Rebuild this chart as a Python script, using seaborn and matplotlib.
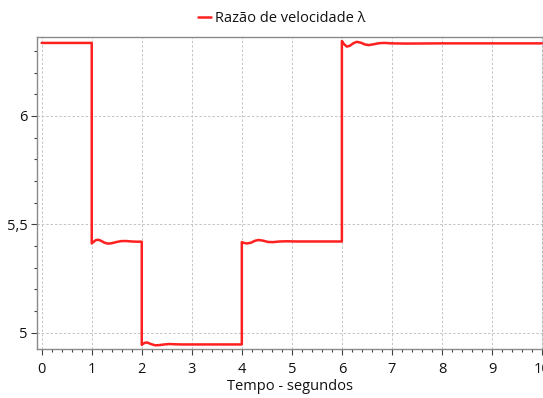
import matplotlib
matplotlib.use("Agg")
import matplotlib.pyplot as plt
import seaborn as sns
import pandas as pd
from matplotlib.ticker import MultipleLocator

# ---- data ----
tempo = [0.0, 1.0, 1.0,
         1.03, 1.08, 1.13, 1.18, 1.25, 1.32, 1.40, 1.50, 1.60, 1.70, 1.80, 1.90, 2.0, 2.0,
         2.03, 2.08, 2.12, 2.18, 2.27, 2.35, 2.45, 2.55, 2.65, 2.80, 3.0, 4.0, 4.0,
         4.05, 4.10, 4.18, 4.26, 4.33, 4.42, 4.52, 4.62, 4.75, 4.90, 5.10, 6.0, 6.0,
         6.04, 6.10, 6.16, 6.24, 6.30, 6.38, 6.46, 6.54, 6.64, 6.75, 6.85, 7.0, 7.3, 8.0, 10.0]
lam = [6.337, 6.337, 5.412,
       5.418, 5.427, 5.429, 5.425, 5.416, 5.411, 5.413, 5.419, 5.423, 5.423, 5.421, 5.420, 5.420, 4.944,
       4.950, 4.955, 4.954, 4.948, 4.942, 4.943, 4.946, 4.948, 4.947, 4.946, 4.946, 4.946, 5.418,
       5.414, 5.412, 5.415, 5.424, 5.428, 5.425, 5.419, 5.418, 5.421, 5.422, 5.421, 5.421, 6.346,
       6.332, 6.320, 6.324, 6.337, 6.342, 6.338, 6.330, 6.327, 6.331, 6.336, 6.337, 6.335, 6.334, 6.335, 6.335]
serie = "Razão de velocidade λ"
xticks = [0, 1, 2, 3, 4, 5, 6, 7, 8, 9, 10]
yticks = [5.0, 5.5, 6.0]
ytick_labels = ["5", "5,5", "6"]
xlabel = "Tempo - segundos"

df = pd.DataFrame({"t": tempo, "v": lam, "s": serie})

sns.set_theme(style="white")
plt.rcParams["font.family"] = ["Open Sans", "DejaVu Sans"]

fig = plt.figure(figsize=(5.43, 3.98), dpi=100)
ax = fig.add_axes([0.0687, 0.1231, 0.9313, 0.7832])

sns.lineplot(data=df, x="t", y="v", hue="s", palette=["#ff2020"], sort=False,
             linewidth=1.8, ax=ax, estimator=None)

ax.set_xlim(-0.088, 10.02)
ax.set_ylim(4.925, 6.363)
ax.set_xticks(xticks)
ax.set_xticklabels([str(x) for x in xticks])
ax.set_yticks(yticks)
ax.set_yticklabels(ytick_labels)
ax.xaxis.set_minor_locator(MultipleLocator(0.2))
ax.yaxis.set_minor_locator(MultipleLocator(0.1))

ax.grid(True, which="major", linestyle=(0, (2.5, 2)), color="#c4c4c4", linewidth=0.7)
ax.tick_params(axis="both", which="major", direction="out", length=4, width=0.8,
               color="#404040", labelsize=10.5, labelcolor="#111111", pad=3,
               bottom=True, left=True)
ax.tick_params(axis="both", which="minor", direction="out", length=2.5, width=0.8,
               color="#404040", bottom=True, left=True)
ax.tick_params(axis="x", which="major", pad=5)

for side in ["top", "right", "left", "bottom"]:
    ax.spines[side].set_color("#8a8a8a")
    ax.spines[side].set_linewidth(1.0)

ax.set_xlabel(xlabel, fontsize=10.5, color="#111111", labelpad=2)
ax.set_ylabel("")

leg = ax.legend(loc="lower center", bbox_to_anchor=(0.483, 1.0), frameon=False,
                fontsize=10.5, handlelength=0.9, handletextpad=0.3,
                borderaxespad=0.35, labelcolor="#111111")

fig.savefig("out.png", dpi=100)
